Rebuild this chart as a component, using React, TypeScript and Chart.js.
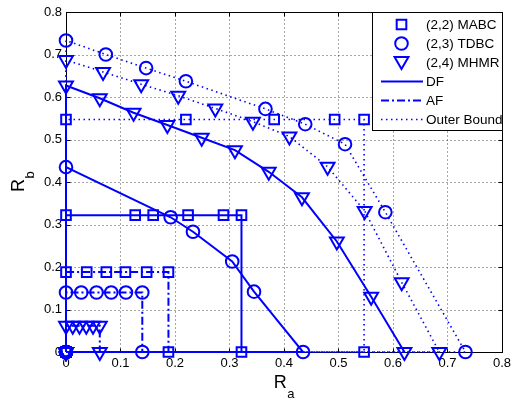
import React, { useEffect, useRef } from 'react';
import { Chart, registerables } from 'chart.js';

Chart.register(...registerables);

const FONT = '"Liberation Sans", Arial, Helvetica, sans-serif';
const BLUE = '#0000ff';

const xTickLabels = ['0', '0.1', '0.2', '0.3', '0.4', '0.5', '0.6', '0.7', '0.8'];
const yTickLabels = ['0', '0.1', '0.2', '0.3', '0.4', '0.5', '0.6', '0.7', '0.8'];

// (2,2) MABC
const mabcDfRa = [0, 0, 0.127, 0.16, 0.224, 0.289, 0.322, 0.322, 0];
const mabcDfRb = [0, 0.322, 0.322, 0.322, 0.322, 0.322, 0.322, 0, 0];
const mabcAfRa = [0, 0, 0.038, 0.074, 0.109, 0.148, 0.188, 0.188, 0];
const mabcAfRb = [0, 0.188, 0.188, 0.188, 0.188, 0.188, 0.188, 0, 0];
const mabcOuterRa = [0, 0, 0.22, 0.382, 0.493, 0.547, 0.547, 0];
const mabcOuterRb = [0, 0.547, 0.547, 0.547, 0.547, 0.547, 0, 0];

// (2,3) TDBC
const tdbcDfRa = [0, 0, 0.192, 0.233, 0.305, 0.345, 0.435, 0];
const tdbcDfRb = [0, 0.435, 0.317, 0.283, 0.213, 0.142, 0, 0];
const tdbcAfRa = [0, 0, 0.028, 0.056, 0.083, 0.11, 0.14, 0.14, 0];
const tdbcAfRb = [0, 0.14, 0.14, 0.14, 0.14, 0.14, 0.14, 0, 0];
const tdbcOuterRa = [0, 0, 0.073, 0.147, 0.22, 0.366, 0.439, 0.512, 0.586, 0.733, 0];
const tdbcOuterRb = [0, 0.733, 0.7, 0.668, 0.637, 0.572, 0.536, 0.489, 0.329, 0, 0];

// (2,4) MHMR
const mhmrDfRa = [0, 0, 0.062, 0.124, 0.186, 0.249, 0.31, 0.372, 0.433, 0.497, 0.56, 0.621];
const mhmrDfRb = [0, 0.627, 0.597, 0.563, 0.534, 0.504, 0.475, 0.424, 0.364, 0.26, 0.13, 0];
const mhmrAfRa = [0, 0, 0.0124, 0.0248, 0.0372, 0.0496, 0.062, 0.062, 0];
const mhmrAfRb = [0, 0.062, 0.062, 0.062, 0.062, 0.062, 0.062, 0, 0];
const mhmrOuterRa = [0, 0, 0.068, 0.138, 0.206, 0.274, 0.343, 0.41, 0.48, 0.548, 0.616, 0.685, 0];
const mhmrOuterRb = [0, 0.687, 0.659, 0.63, 0.603, 0.573, 0.542, 0.507, 0.436, 0.332, 0.164, 0, 0];

const legendLabels = ['(2,2) MABC', '(2,3) TDBC', '(2,4) MHMR', 'DF', 'AF', 'Outer Bound'];

const DASH_DF: number[] = [];
const DASH_AF = [8, 3, 2, 3];
const DASH_OUTER = [1.5, 3.5];

type Marker = 'square' | 'circle' | 'triangle';

const SQ_R = 6.8;
const CI_R = 6.3;
const TR_R = 8;

function markerOpts(m: Marker) {
  if (m === 'square') return { pointStyle: 'rect', pointRadius: SQ_R, pointRotation: 0 };
  if (m === 'circle') return { pointStyle: 'circle', pointRadius: CI_R, pointRotation: 0 };
  return { pointStyle: 'triangle', pointRadius: TR_R, pointRotation: 180 };
}

function makeSet(ra: number[], rb: number[], dash: number[], m: Marker) {
  return {
    data: ra.map((x, i) => ({ x, y: rb[i] })),
    showLine: true,
    borderColor: BLUE,
    borderWidth: dash === DASH_OUTER ? 1.6 : 2,
    borderDash: dash,
    ...markerOpts(m),
    pointBorderColor: BLUE,
    pointBackgroundColor: 'rgba(0,0,0,0)',
    pointBorderWidth: 2,
    pointHoverRadius: 6,
    clip: false,
    tension: 0,
  };
}

function drawMarker(ctx: CanvasRenderingContext2D, m: Marker, x: number, y: number) {
  ctx.beginPath();
  if (m === 'square') {
    const s = SQ_R * Math.SQRT1_2;
    ctx.rect(x - s, y - s, 2 * s, 2 * s);
  } else if (m === 'circle') {
    ctx.arc(x, y, CI_R, 0, Math.PI * 2);
  } else {
    const r = TR_R;
    ctx.moveTo(x, y + r);
    ctx.lineTo(x - r * Math.sin(Math.PI / 3), y - r / 2);
    ctx.lineTo(x + r * Math.sin(Math.PI / 3), y - r / 2);
    ctx.closePath();
  }
  ctx.stroke();
}

const framePlugin = {
  id: 'matlabFrame',
  beforeDatasetsDraw(chart: any) {
    const { ctx, chartArea } = chart;
    const xs = chart.scales.x;
    const ys = chart.scales.y;
    const L = Math.round(chartArea.left) + 0.5;
    const R = Math.round(chartArea.right) + 0.5;
    const T = Math.round(chartArea.top) + 0.5;
    const B = Math.round(chartArea.bottom) + 0.5;
    ctx.save();
    ctx.lineWidth = 1;
    ctx.strokeStyle = 'rgba(0,0,0,0.7)';
    ctx.setLineDash([1, 3]);
    xs.ticks.forEach((t: any) => {
      const px = Math.round(xs.getPixelForValue(t.value)) + 0.5;
      ctx.beginPath();
      ctx.moveTo(px, B);
      ctx.lineTo(px, T);
      ctx.stroke();
    });
    ys.ticks.forEach((t: any) => {
      const py = Math.round(ys.getPixelForValue(t.value)) + 0.5;
      ctx.beginPath();
      ctx.moveTo(L, py);
      ctx.lineTo(R, py);
      ctx.stroke();
    });
    ctx.setLineDash([]);
    ctx.strokeStyle = '#000';
    xs.ticks.forEach((t: any) => {
      const px = Math.round(xs.getPixelForValue(t.value)) + 0.5;
      ctx.beginPath();
      ctx.moveTo(px, B);
      ctx.lineTo(px, B - 4);
      ctx.moveTo(px, T);
      ctx.lineTo(px, T + 4);
      ctx.stroke();
    });
    ys.ticks.forEach((t: any) => {
      const py = Math.round(ys.getPixelForValue(t.value)) + 0.5;
      ctx.beginPath();
      ctx.moveTo(L, py);
      ctx.lineTo(L + 4, py);
      ctx.moveTo(R, py);
      ctx.lineTo(R - 4, py);
      ctx.stroke();
    });
    ctx.strokeRect(L, T, R - L, B - T);
    ctx.restore();
  },
  afterDraw(chart: any) {
    const { ctx, chartArea } = chart;
    ctx.save();
    // Axis titles with subscripts
    ctx.fillStyle = '#000';
    ctx.textBaseline = 'alphabetic';
    ctx.textAlign = 'left';
    ctx.font = `18px ${FONT}`;
    const wR = ctx.measureText('R').width;
    ctx.font = `13px ${FONT}`;
    const wA = ctx.measureText('a').width;
    const wB = ctx.measureText('b').width;
    const cx = (chartArea.left + chartArea.right) / 2;
    let x0 = cx - (wR + wA) / 2;
    ctx.font = `18px ${FONT}`;
    ctx.fillText('R', x0, 388);
    ctx.font = `13px ${FONT}`;
    ctx.fillText('a', x0 + wR + 0.5, 398);

    const cy = (chartArea.top + chartArea.bottom) / 2;
    ctx.translate(23.5, cy);
    ctx.rotate(-Math.PI / 2);
    x0 = -(wR + wB) / 2;
    ctx.font = `18px ${FONT}`;
    ctx.fillText('R', x0, 0);
    ctx.font = `13px ${FONT}`;
    ctx.fillText('b', x0 + wR + 0.5, 10);
    ctx.restore();

    // Legend box
    ctx.save();
    const bx = 372.5;
    const by = Math.round(chartArea.top) + 0.5;
    const bw = Math.round(chartArea.right) + 0.5 - bx;
    const bh = 118;
    ctx.fillStyle = '#fff';
    ctx.fillRect(bx, by, bw, bh);
    ctx.strokeStyle = '#000';
    ctx.lineWidth = 1;
    ctx.strokeRect(bx, by, bw, bh);
    const rows = [24.5, 43.5, 62.5, 81.5, 100.5, 119.5];
    ctx.strokeStyle = BLUE;
    ctx.lineWidth = 2;
    const markers: Marker[] = ['square', 'circle', 'triangle'];
    markers.forEach((m, i) => drawMarker(ctx, m, 401.5, rows[i] + (m === 'triangle' ? -1.5 : 0)));
    const dashes = [DASH_DF, DASH_AF, DASH_OUTER];
    dashes.forEach((d, i) => {
      ctx.setLineDash(d);
      ctx.lineWidth = d === DASH_OUTER ? 1.6 : 2;
      ctx.beginPath();
      ctx.moveTo(381, rows[3 + i]);
      ctx.lineTo(423, rows[3 + i]);
      ctx.stroke();
    });
    ctx.setLineDash([]);
    ctx.fillStyle = '#000';
    ctx.font = `13.5px ${FONT}`;
    ctx.textBaseline = 'middle';
    legendLabels.forEach((t, i) => ctx.fillText(t, 426, rows[i] + 0.5));
    ctx.restore();
  },
};

export default function App() {
  const ref = useRef<HTMLCanvasElement | null>(null);
  useEffect(() => {
    document.body.style.margin = '0';
    const canvas = ref.current;
    if (!canvas) return;
    const datasets: any[] = [
      makeSet(mabcOuterRa, mabcOuterRb, DASH_OUTER, 'square'),
      makeSet(tdbcOuterRa, tdbcOuterRb, DASH_OUTER, 'circle'),
      makeSet(mhmrOuterRa, mhmrOuterRb, DASH_OUTER, 'triangle'),
      makeSet(mabcAfRa, mabcAfRb, DASH_AF, 'square'),
      makeSet(tdbcAfRa, tdbcAfRb, DASH_AF, 'circle'),
      makeSet(mhmrAfRa, mhmrAfRb, DASH_AF, 'triangle'),
      makeSet(mabcDfRa, mabcDfRb, DASH_DF, 'square'),
      makeSet(tdbcDfRa, tdbcDfRb, DASH_DF, 'circle'),
      makeSet(mhmrDfRa, mhmrDfRb, DASH_DF, 'triangle'),
    ];
    const tickFont = { family: FONT, size: 13 };
    const chart = new Chart(canvas, {
      type: 'scatter',
      data: { datasets },
      options: {
        animation: false,
        responsive: false,
        devicePixelRatio: 1,
        events: [],
        layout: { padding: { left: 0, right: 9, top: 12, bottom: 0 } },
        plugins: { legend: { display: false }, tooltip: { enabled: false } },
        scales: {
          x: {
            type: 'linear',
            min: 0,
            max: 0.8,
            ticks: {
              stepSize: 0.1,
              padding: 4,
              color: '#000',
              font: tickFont,
              maxRotation: 0,
              autoSkip: false,
              callback: (_v: any, i: number) => xTickLabels[i],
            },
            grid: { display: false, drawTicks: false },
            border: { display: false },
            afterFit: (s: any) => { s.height = 48; },
          },
          y: {
            type: 'linear',
            min: 0,
            max: 0.8,
            ticks: {
              stepSize: 0.1,
              padding: 4,
              color: '#000',
              font: tickFont,
              autoSkip: false,
              callback: (_v: any, i: number) => yTickLabels[i],
            },
            grid: { display: false, drawTicks: false },
            border: { display: false },
            afterFit: (s: any) => { s.width = 66; },
          },
        },
      } as any,
      plugins: [framePlugin],
    });
    return () => chart.destroy();
  }, []);
  return (
    <div style={{ width: 515, height: 400 }}>
      <canvas ref={ref} width={515} height={400} style={{ display: 'block', width: 515, height: 400 }} />
    </div>
  );
}
